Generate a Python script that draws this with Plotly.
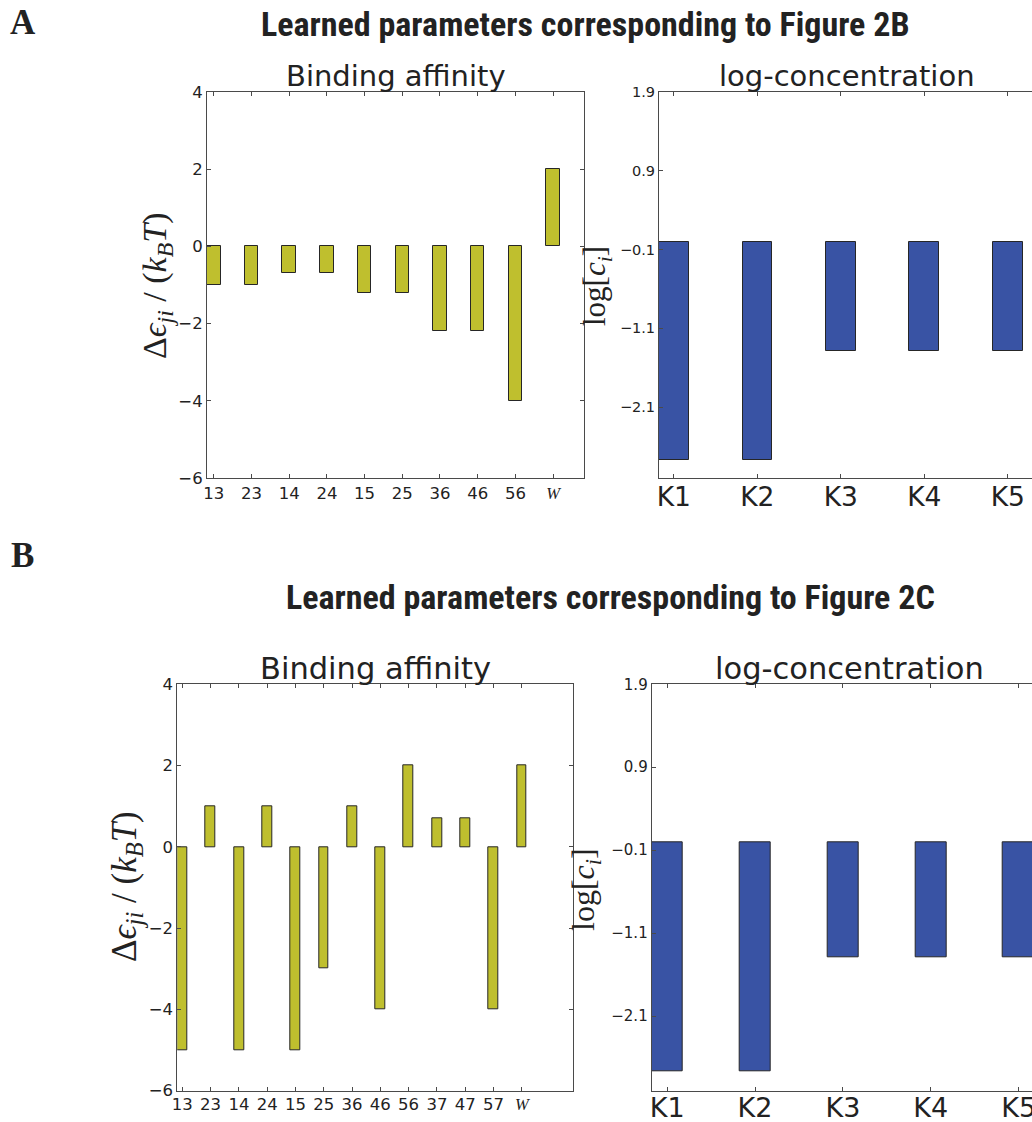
import plotly.graph_objects as go

# ---- data -------------------------------------------------------------
pairs_2b = ["13", "23", "14", "24", "15", "25", "36", "46", "56", "W"]
affinity_2b = [-1.0, -1.0, -0.7, -0.7, -1.2, -1.2, -2.2, -2.2, -4.0, 2.0]

pairs_2c = ["13", "23", "14", "24", "15", "25", "36", "46", "56", "37", "47", "57", "W"]
affinity_2c = [-5.0, 1.0, -5.0, 1.0, -5.0, -3.0, 1.0, -4.0, 2.0, 0.7, 0.7, -4.0, 2.0]

kinases = ["K1", "K2", "K3", "K4", "K5"]
logconc_2b = [-2.77, -2.77, -1.39, -1.39, -1.39]
logconc_2c = [-2.77, -2.77, -1.39, -1.39, -1.39]

aff_ticks = [-6, -4, -2, 0, 2, 4]
conc_ticks = [1.9, 0.9, -0.1, -1.1, -2.1]

# ---- style ------------------------------------------------------------
W, H = 1032, 1122
YELLOW = "#bfbf2e"
BLUE = "#3953a4"
EDGE = "#262626"
SPINE = "#4a4a4a"
TXT = "#222222"
SANS = "DejaVu Sans, Verdana, sans-serif"
SERIF = "Liberation Serif, DejaVu Serif, serif"
COND = "Liberation Sans Narrow, Roboto Condensed, Roboto, sans-serif"


def px(x):
    return x / W


def py(y):
    return 1 - y / H


def minus(v):
    return ("%g" % v).replace("-", "\u2212")


def pair_labels(pairs):
    out = []
    for p in pairs:
        if p == "W":
            out.append("<span style='font-family:Liberation Serif, DejaVu Serif, serif'><i>W</i></span>")
        else:
            out.append(p)
    return out


fig = go.Figure()

# bars: (x categories, values, color, bar width, axis suffix)
panels = [
    (pairs_2b, affinity_2b, YELLOW, 0.36, ""),
    (kinases, logconc_2b, BLUE, 0.355, "2"),
    (pairs_2c, affinity_2c, YELLOW, 0.35, "3"),
    (kinases, logconc_2c, BLUE, 0.353, "4"),
]
for cats, vals, col, wd, ax in panels:
    fig.add_trace(go.Bar(
        x=cats, y=vals, width=wd,
        marker=dict(color=col, line=dict(color=EDGE, width=1)),
        xaxis="x" + ax, yaxis="y" + ax, showlegend=False, hoverinfo="x+y",
    ))

common_x = dict(showline=True, linecolor=SPINE, linewidth=1, ticks="inside",
                ticklen=4, tickcolor=SPINE, showgrid=False, zeroline=False,
                type="category", fixedrange=True, automargin=False)
common_y = dict(showline=True, linecolor=SPINE, linewidth=1, ticks="inside",
                ticklen=4, tickcolor=SPINE, showgrid=False, zeroline=False,
                fixedrange=True, automargin=False)

top_dom = [py(478), py(92)]
bot_dom = [py(1090.7), py(684.3)]

fig.update_layout(
    width=W, height=H,
    margin=dict(l=0, r=0, t=0, b=0, pad=0, autoexpand=False),
    paper_bgcolor="white", plot_bgcolor="white",
    bargap=0,
    # top-left: binding affinity (2B)
    xaxis=dict(common_x, domain=[px(207), px(584)], anchor="y",
               range=[-0.18, 9.82], mirror="ticks",
               tickvals=pairs_2b, ticktext=pair_labels(pairs_2b),
               tickfont=dict(family=SANS, size=16.5, color=TXT)),
    yaxis=dict(common_y, domain=top_dom, anchor="x", range=[-6, 4], mirror="ticks",
               tickvals=aff_ticks, ticktext=[minus(v) for v in aff_ticks],
               tickfont=dict(family=SANS, size=16.5, color=TXT), ticklabelstandoff=0),
    # top-right: log-concentration (2B)
    xaxis2=dict(common_x, domain=[px(659), 1.0], anchor="y2",
                range=[-0.178, 4.29], mirror="ticks", ticklabelstandoff=-5,
                tickfont=dict(family=SANS, size=26.5, color=TXT)),
    yaxis2=dict(common_y, domain=top_dom, anchor="x2", range=[-3.0, 1.9], mirror=False,
                tickvals=conc_ticks, ticktext=[minus(v) for v in conc_ticks],
                tickfont=dict(family=SANS, size=14.5, color=TXT), ticklabelstandoff=0),
    # bottom-left: binding affinity (2C)
    xaxis3=dict(common_x, domain=[px(177.3), px(572.7)], anchor="y3",
                range=[-0.177, 13.8], mirror="ticks", ticklabelstandoff=-2,
                tickvals=pairs_2c, ticktext=pair_labels(pairs_2c),
                tickfont=dict(family=SANS, size=16.5, color=TXT)),
    yaxis3=dict(common_y, domain=bot_dom, anchor="x3", range=[-6, 4], mirror="ticks",
                tickvals=aff_ticks, ticktext=[minus(v) for v in aff_ticks],
                tickfont=dict(family=SANS, size=16.5, color=TXT), ticklabelstandoff=0),
    # bottom-right: log-concentration (2C)
    xaxis4=dict(common_x, domain=[px(651.7), 1.0], anchor="y4",
                range=[-0.176, 4.152], mirror="ticks", ticklabelstandoff=-7,
                tickfont=dict(family=SANS, size=27, color=TXT)),
    yaxis4=dict(common_y, domain=bot_dom, anchor="x4", range=[-3.0, 1.9], mirror=False,
                tickvals=conc_ticks, ticktext=[minus(v) for v in conc_ticks],
                tickfont=dict(family=SANS, size=15, color=TXT), ticklabelstandoff=0),
)

ann = []


def text(x, y, s, size, family, angle=0, xanchor="center", yanchor="middle"):
    ann.append(dict(x=px(x), y=py(y), xref="paper", yref="paper", text=s,
                    showarrow=False, textangle=angle, xanchor=xanchor, yanchor=yanchor,
                    font=dict(family=family, size=size, color=TXT)))


# panel letters
text(23, 22, "<b>A</b>", 35, SERIF)
text(22, 555, "<b>B</b>", 35, SERIF)

# figure headings
text(585, 24, "<b>Learned parameters corresponding to Figure 2B</b>", 34, COND)
text(610, 597, "<b>Learned parameters corresponding to Figure 2C</b>", 34, COND)

# subplot titles
text(395.5, 76, "Binding affinity", 29, SANS)
text(847, 76, "log-concentration", 29, SANS)
text(375, 668, "Binding affinity", 30.5, SANS)
text(849, 668, "log-concentration", 30.5, SANS)

# axis titles
eps_label = "\u0394<i>\u03f5</i><sub><i>ji</i></sub> / (<i>k</i><sub><i>B</i></sub><i>T</i>)"
conc_label = "log[<i>c</i><sub><i>i</i></sub>]"
text(157, 286, eps_label, 34, SERIF, angle=-90)
text(597, 286, conc_label, 31, SERIF, angle=-90)
text(126, 887, eps_label, 35, SERIF, angle=-90)
text(585, 890, conc_label, 32, SERIF, angle=-90)

fig.update_layout(annotations=ann)

fig.write_html("out.html")
